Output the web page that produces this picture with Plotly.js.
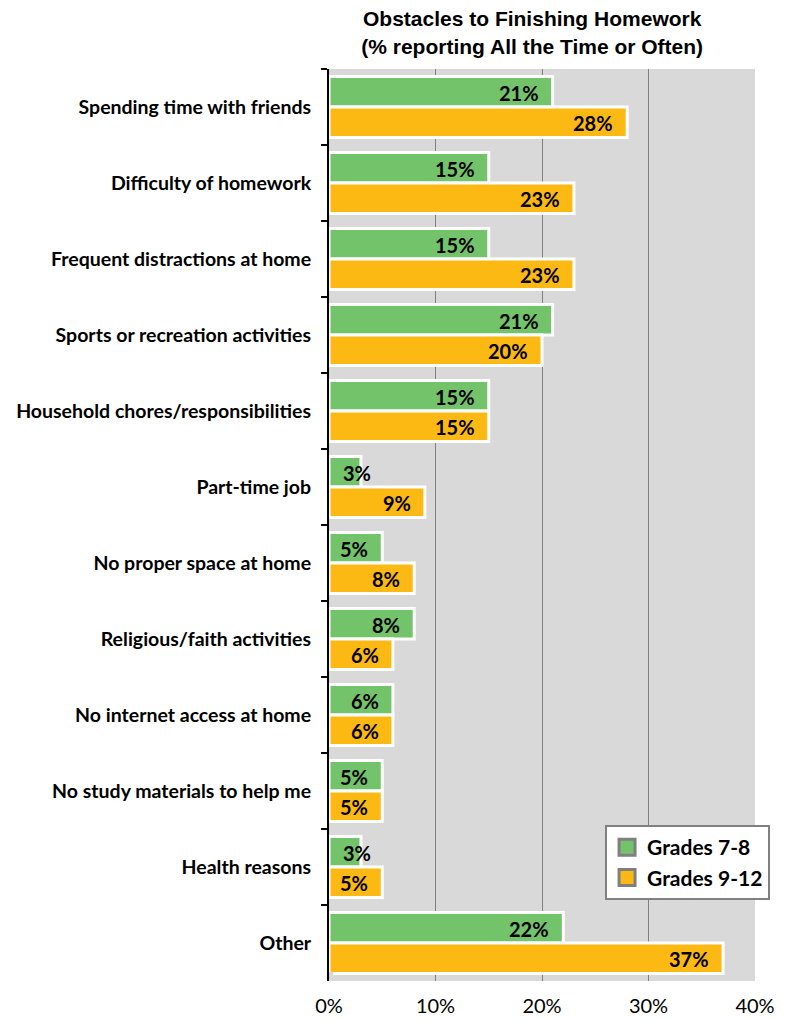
<!DOCTYPE html>
<html>
<head>
<meta charset="utf-8">
<script src="https://cdn.plot.ly/plotly-3.0.1.min.js"></script>
<style>html,body{margin:0;padding:0;background:#fff;}#chart{width:787px;height:1019px;}</style>
</head>
<body>
<div id="chart"></div>
<script>
const categories = [
  "Spending time with friends",
  "Difficulty of homework",
  "Frequent distractions at home",
  "Sports or recreation activities",
  "Household chores/responsibilities",
  "Part-time job",
  "No proper space at home",
  "Religious/faith activities",
  "No internet access at home",
  "No study materials to help me",
  "Health reasons",
  "Other"
];
const grades78 = [21, 15, 15, 21, 15, 3, 5, 8, 6, 5, 3, 22];
const grades912 = [28, 23, 23, 20, 15, 9, 8, 6, 6, 5, 5, 37];
const seriesNames = ["Grades 7-8", "Grades 9-12"];
const xTickVals = [0, 10, 20, 30, 40];
const xTickText = ["0%", "10%", "20%", "30%", "40%"];

const GREEN = "#73C36B";
const ORANGE = "#FDB913";
const FONT = "Lato, 'Open Sans', sans-serif";
const labelFont = {family: FONT, size: 20, color: "#000", weight: 700};

const bargap = 0.2;
const off = (1 - bargap) / 4;

function barTrace(vals, name, color) {
  return {
    type: "bar", orientation: "h", name: name,
    y: categories, x: vals,
    marker: {color: color, line: {color: "#FFFFFF", width: 3}},
    showlegend: false, hoverinfo: "skip"
  };
}
function legendTrace(name, color) {
  return {
    type: "scatter", mode: "markers", name: name,
    x: [null], y: [null], xaxis: "x2", yaxis: "y2",
    marker: {symbol: "square", size: 16, color: color, line: {color: "#7F7F7F", width: 3}},
    showlegend: true
  };
}

const annotations = [];
[[grades78, -off], [grades912, off]].forEach(([vals, dy]) => {
  vals.forEach((v, i) => {
    const small = v < 4;
    annotations.push({
      x: small ? 0 : v, y: i + dy, xref: "x", yref: "y",
      text: v + "%", showarrow: false,
      xanchor: small ? "left" : "right",
      xshift: small ? 12 : -12, yshift: -1,
      font: labelFont
    });
  });
});

const data = [
  barTrace(grades78, seriesNames[0], GREEN),
  barTrace(grades912, seriesNames[1], ORANGE),
  legendTrace(seriesNames[0], GREEN),
  legendTrace(seriesNames[1], ORANGE)
];

const layout = {
  width: 787, height: 1019,
  margin: {l: 329, r: 32, t: 69, b: 38},
  paper_bgcolor: "#FFFFFF",
  plot_bgcolor: "#D9D9D9",
  barmode: "group",
  bargap: bargap, bargroupgap: 0,
  title: {
    text: "Obstacles to Finishing Homework<br>(% reporting All the Time or Often)",
    font: {family: "'Liberation Sans', Arial, sans-serif", size: 21, color: "#000", weight: 700},
    x: 0.477, xref: "paper", xanchor: "center",
    y: 0.974, yref: "container", yanchor: "middle"
  },
  xaxis: {
    range: [0, 40], tickvals: xTickVals, ticktext: xTickText,
    showgrid: true, gridcolor: "#808080", gridwidth: 1,
    zeroline: false, showline: false, ticks: "",
    ticklabelstandoff: 11,
    tickfont: {family: FONT, size: 20, color: "#000"},
    fixedrange: true
  },
  yaxis: {
    type: "category", autorange: "reversed",
    showline: true, linecolor: "#000", linewidth: 2,
    ticks: "outside", tickson: "boundaries", ticklen: 6, tickcolor: "#000", tickwidth: 2,
    ticklabelstandoff: 12,
    showgrid: false, zeroline: false,
    tickfont: {family: FONT, size: 19.5, color: "#000", weight: 700},
    fixedrange: true
  },
  xaxis2: {domain: [0, 0.01], anchor: "y2", visible: false, fixedrange: true},
  yaxis2: {domain: [0, 0.01], anchor: "x2", visible: false, fixedrange: true},
  legend: {
    x: 0.648, y: 0.171, xanchor: "left", yanchor: "top",
    bgcolor: "#FFFFFF", bordercolor: "#808080", borderwidth: 2,
    font: {family: FONT, size: 21, color: "#000", weight: 700},
    traceorder: "normal", itemwidth: 30
  },
  annotations: annotations
};

Plotly.newPlot("chart", data, layout, {displayModeBar: false, staticPlot: true});
</script>
</body>
</html>
